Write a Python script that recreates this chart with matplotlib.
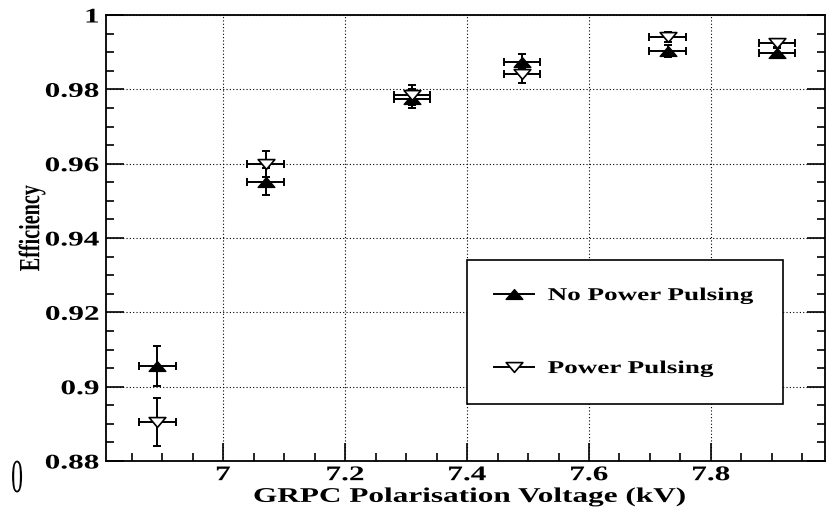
import matplotlib
matplotlib.use('Agg')
import matplotlib.pyplot as plt
from matplotlib.path import Path
from matplotlib.transforms import Affine2D
import matplotlib.patheffects as pe
from matplotlib.lines import Line2D
from matplotlib.ticker import FixedLocator, FixedFormatter, MultipleLocator

# ---------------- data ----------------
voltage = [6.892, 7.070, 7.310, 7.490, 7.729, 7.908]
voltage_err = [0.03, 0.03, 0.03, 0.03, 0.03, 0.03]

eff_no_pp = [0.9056, 0.9552, 0.9775, 0.9874, 0.9903, 0.9898]
err_no_pp = [0.0054, 0.0035, 0.0025, 0.0020, 0.0015, 0.0013]

eff_pp = [0.8905, 0.9600, 0.9785, 0.9841, 0.9941, 0.9925]
err_pp = [0.0065, 0.0035, 0.0027, 0.0024, 0.0013, 0.0010]

series_labels = ['No Power Pulsing', 'Power Pulsing']

x_ticks = [7.0, 7.2, 7.4, 7.6, 7.8]
x_tick_labels = ['7', '7.2', '7.4', '7.6', '7.8']
y_ticks = [0.88, 0.90, 0.92, 0.94, 0.96, 0.98, 1.00]
y_tick_labels = ['0.88', '0.9', '0.92', '0.94', '0.96', '0.98', '1']

x_label = 'GRPC Polarisation Voltage (kV)'
y_label = 'Efficiency'
corner_text = '0'

# ---------------- style helpers ----------------
plt.rcParams['font.family'] = ['Liberation Serif', 'DejaVu Serif']
plt.rcParams['font.weight'] = 'bold'


class HStretch(pe.AbstractPathEffect):
    """Stretch the glyph outlines horizontally around an anchor."""

    def __init__(self, sx, anchor=0.5):
        super().__init__()
        self._sx = sx
        self._anchor = anchor

    def draw_path(self, renderer, gc, tpath, affine, rgbFace=None):
        ext = tpath.get_extents(affine)
        ax0 = ext.x0 + self._anchor * ext.width
        t = affine + Affine2D().translate(-ax0, 0).scale(self._sx, 1.0).translate(ax0, 0)
        renderer.draw_path(gc, tpath, t, rgbFace)


SX = 1.5

tri_up = Path([(-0.85, -0.5), (0.85, -0.5), (0.0, 0.5), (-0.85, -0.5)],
              [Path.MOVETO, Path.LINETO, Path.LINETO, Path.CLOSEPOLY])
tri_down = Path([(-0.85, 0.5), (0.85, 0.5), (0.0, -0.5), (-0.85, 0.5)],
                [Path.MOVETO, Path.LINETO, Path.LINETO, Path.CLOSEPOLY])

fig = plt.figure(figsize=(8.31, 5.08), dpi=100)
ax = fig.add_axes([106 / 831, 1 - 461 / 508, 719 / 831, 446 / 508])

ax.set_xlim(6.808, 7.987)
ax.set_ylim(0.88, 1.0)

ax.errorbar(voltage, eff_no_pp, yerr=err_no_pp, xerr=voltage_err,
            fmt='none', ecolor='k', elinewidth=1.4, capsize=3, capthick=1.4, zorder=3)
ax.errorbar(voltage, eff_pp, yerr=err_pp, xerr=voltage_err,
            fmt='none', ecolor='k', elinewidth=1.4, capsize=3, capthick=1.4, zorder=3)
ax.plot(voltage, eff_no_pp, linestyle='none', marker=tri_up, markersize=12,
        markerfacecolor='k', markeredgecolor='k', zorder=4)
ax.plot(voltage, eff_pp, linestyle='none', marker=tri_down, markersize=12,
        markerfacecolor='white', markeredgecolor='k', markeredgewidth=1.2, zorder=5)

# ticks
ax.xaxis.set_major_locator(FixedLocator(x_ticks))
ax.xaxis.set_major_formatter(FixedFormatter(x_tick_labels))
ax.xaxis.set_minor_locator(MultipleLocator(0.05))
ax.yaxis.set_major_locator(FixedLocator(y_ticks))
ax.yaxis.set_major_formatter(FixedFormatter(y_tick_labels))
ax.yaxis.set_minor_locator(MultipleLocator(0.005))
ax.tick_params(which='both', direction='in', top=False, right=True, width=1.2, color='k')
ax.tick_params(which='major', length=13)
ax.tick_params(which='minor', length=6)
ax.tick_params(axis='x', labelsize=15, pad=3)
ax.tick_params(axis='y', labelsize=15, pad=5)

for s in ax.spines.values():
    s.set_linewidth(1.3)
    s.set_color('k')

ax.grid(True, which='major', linestyle=(0, (1, 2)), linewidth=0.8, color='k', zorder=0)
ax.set_axisbelow(True)

# axis labels
ax.set_xlabel(x_label, fontsize=15, fontweight='bold', va='top')
ax.xaxis.set_label_coords(0.506, -0.058)
ax.set_ylabel(y_label, fontsize=14.5, fontweight='bold')
ax.yaxis.label.set_va('center')
ax.yaxis.set_label_coords(-0.103, 0.522)
ax.xaxis.label.set_path_effects([HStretch(SX, 0.5)])
ax.yaxis.label.set_path_effects([HStretch(1.45, 0.5)])

# legend
handles = [
    Line2D([], [], color='k', lw=1.4, marker=tri_up, markersize=12,
           markerfacecolor='k', markeredgecolor='k'),
    Line2D([], [], color='k', lw=1.4, marker=tri_down, markersize=12,
           markerfacecolor='white', markeredgecolor='k', markeredgewidth=1.2),
]
leg = ax.legend(handles, series_labels, loc='upper left',
                bbox_to_anchor=(0.502, 0.4507, 0.4396, 0.0), mode='expand',
                borderaxespad=0.0, prop={'size': 13, 'weight': 'bold'},
                borderpad=1.5, labelspacing=3.1, handlelength=2.2,
                handletextpad=0.78, numpoints=1, fancybox=False,
                framealpha=1.0, edgecolor='k')
leg.get_frame().set_linewidth(1.2)
for t in leg.get_texts():
    t.set_path_effects([HStretch(SX, 0.0)])

fig.text(17 / 831, 1 - 492 / 508, corner_text, fontsize=34, fontweight='normal',
         ha='center', va='baseline', path_effects=[HStretch(0.5, 0.5)])

fig.canvas.draw()
for lab in ax.get_xticklabels():
    lab.set_path_effects([HStretch(SX, 0.5)])
for lab in ax.get_yticklabels():
    lab.set_path_effects([HStretch(SX, 1.0)])

fig.savefig('out.png', dpi=100)
